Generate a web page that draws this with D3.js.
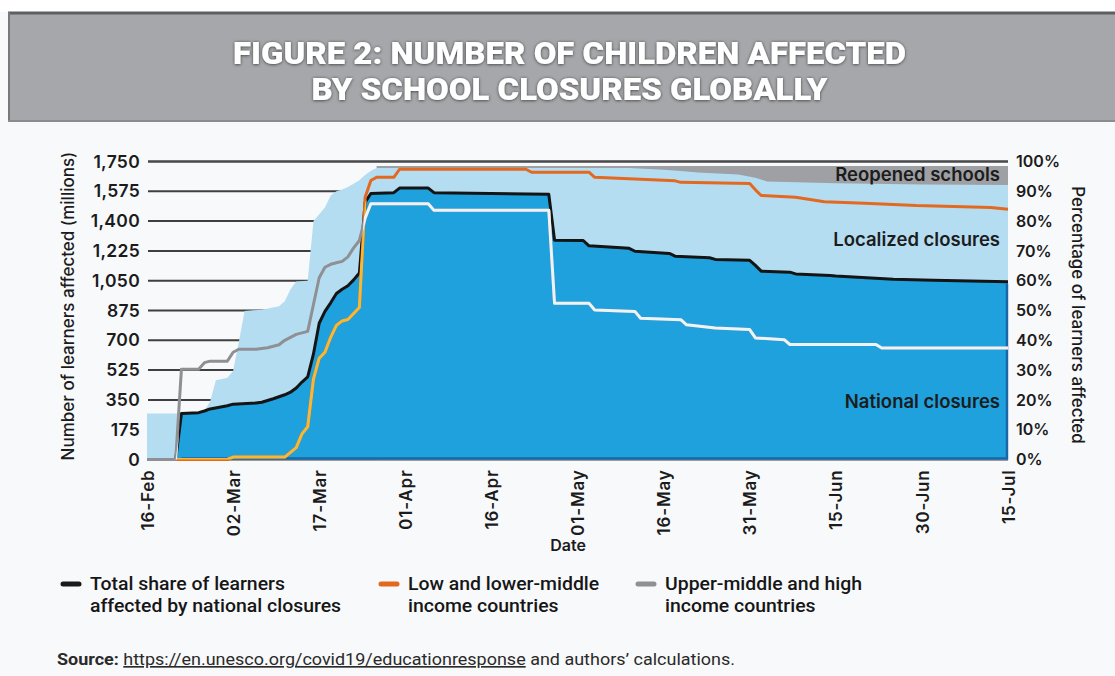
<!DOCTYPE html>
<html>
<head>
<meta charset="utf-8">
<script src="https://cdn.jsdelivr.net/npm/d3@7"></script>
<style>
  html, body { margin: 0; padding: 0; background: #f8f9fb; }
  svg { display: block; }
</style>
</head>
<body>
<svg id="chart" width="1115" height="676"></svg>
<script>
// ---- Chart content ----
const titleLines = ["FIGURE 2: NUMBER OF CHILDREN AFFECTED", "BY SCHOOL CLOSURES GLOBALLY"];
const leftAxisTitle = "Number of learners affected (millions)";
const rightAxisTitle = "Percentage of learners affected";
const dateAxisTitle = "Date";

const tickDates = ["2020-02-16", "2020-03-02", "2020-03-17", "2020-04-01", "2020-04-16",
  "2020-05-01", "2020-05-16", "2020-05-31", "2020-06-15", "2020-06-30", "2020-07-15"];
const learnerTicks = [0, 175, 350, 525, 700, 875, 1050, 1225, 1400, 1575, 1750];
const shareTicks = [0, 10, 20, 30, 40, 50, 60, 70, 80, 90, 100];

// Learners under national closures (millions) - also the total share line
const nationalClosures = [
  ["2020-02-16", 0], ["2020-02-21", 0], ["2020-02-22", 270], ["2020-02-25", 275], ["2020-02-26", 285],
  ["2020-02-27", 297], ["2020-03-01", 316], ["2020-03-02", 325], ["2020-03-06", 332], ["2020-03-07", 336],
  ["2020-03-09", 357], ["2020-03-11", 380], ["2020-03-12", 395], ["2020-03-13", 420], ["2020-03-14", 455],
  ["2020-03-15", 485], ["2020-03-16", 620], ["2020-03-17", 800], ["2020-03-18", 870], ["2020-03-19", 920],
  ["2020-03-20", 975], ["2020-03-21", 1000], ["2020-03-22", 1020], ["2020-03-23", 1055], ["2020-03-24", 1095],
  ["2020-03-25", 1510], ["2020-03-26", 1562], ["2020-03-30", 1567], ["2020-03-31", 1594], ["2020-04-05", 1594],
  ["2020-04-06", 1567], ["2020-04-26", 1557], ["2020-04-27", 1288], ["2020-05-02", 1286], ["2020-05-03", 1255],
  ["2020-05-10", 1240], ["2020-05-11", 1223], ["2020-05-17", 1210], ["2020-05-18", 1194], ["2020-05-24", 1185],
  ["2020-05-25", 1175], ["2020-05-31", 1170], ["2020-06-01", 1140], ["2020-06-02", 1106], ["2020-06-07", 1100],
  ["2020-06-08", 1090], ["2020-06-14", 1080], ["2020-06-15", 1077], ["2020-06-25", 1058], ["2020-07-02", 1052],
  ["2020-07-15", 1044]
];

// National + localized closures (millions)
const allClosures = [
  ["2020-02-16", 270], ["2020-02-22", 270], ["2020-02-26", 285], ["2020-02-27", 340], ["2020-02-28", 465],
  ["2020-03-01", 480], ["2020-03-02", 520], ["2020-03-03", 690], ["2020-03-04", 872], ["2020-03-07", 880],
  ["2020-03-10", 900], ["2020-03-11", 930], ["2020-03-12", 1000], ["2020-03-13", 1045], ["2020-03-15", 1050],
  ["2020-03-16", 1400], ["2020-03-17", 1440], ["2020-03-18", 1480], ["2020-03-19", 1550], ["2020-03-20", 1575],
  ["2020-03-21", 1585], ["2020-03-22", 1600], ["2020-03-23", 1620], ["2020-03-24", 1640], ["2020-03-25", 1670],
  ["2020-03-26", 1695], ["2020-03-27", 1712], ["2020-05-10", 1712], ["2020-05-16", 1702], ["2020-05-19", 1694],
  ["2020-05-22", 1686], ["2020-05-29", 1674], ["2020-06-01", 1655], ["2020-06-03", 1633], ["2020-06-15", 1623],
  ["2020-06-30", 1615], ["2020-07-15", 1612]
];

// All learners, including those in reopened schools (millions)
const allLearners = [["2020-03-27", 1724], ["2020-07-15", 1724]];

// Share of learners affected, low and lower-middle income countries (%)
const lowIncomeShare = [
  ["2020-02-16", 0], ["2020-03-01", 0], ["2020-03-02", 0.8], ["2020-03-11", 0.8], ["2020-03-12", 2.4],
  ["2020-03-13", 4], ["2020-03-14", 8.6], ["2020-03-15", 11], ["2020-03-16", 27], ["2020-03-17", 34],
  ["2020-03-18", 36], ["2020-03-19", 41], ["2020-03-20", 45], ["2020-03-21", 46.5], ["2020-03-22", 47],
  ["2020-03-23", 49], ["2020-03-24", 51], ["2020-03-25", 88], ["2020-03-26", 93.6], ["2020-03-27", 94.7],
  ["2020-03-30", 94.7], ["2020-03-31", 97.4], ["2020-04-22", 97.4], ["2020-04-23", 96.4], ["2020-05-03", 96.4],
  ["2020-05-04", 94.7], ["2020-05-11", 94.1], ["2020-05-18", 93.5], ["2020-05-19", 93], ["2020-05-31", 92.6],
  ["2020-06-01", 90.5], ["2020-06-02", 88.6], ["2020-06-08", 88], ["2020-06-13", 86.5], ["2020-06-20", 86],
  ["2020-06-29", 85.2], ["2020-07-12", 84.6], ["2020-07-15", 84]
];

// Share of learners affected, upper-middle and high income countries (%)
const upperIncomeShare = [
  ["2020-02-16", 0], ["2020-02-21", 0], ["2020-02-22", 30.3], ["2020-02-25", 30.3], ["2020-02-26", 32.5],
  ["2020-02-27", 33], ["2020-03-01", 33], ["2020-03-02", 36], ["2020-03-03", 37], ["2020-03-06", 37],
  ["2020-03-08", 37.5], ["2020-03-10", 38.5], ["2020-03-11", 40], ["2020-03-13", 42], ["2020-03-15", 43],
  ["2020-03-16", 52], ["2020-03-17", 61], ["2020-03-18", 64.5], ["2020-03-19", 65.5], ["2020-03-20", 66],
  ["2020-03-21", 66.5], ["2020-03-22", 68], ["2020-03-23", 71], ["2020-03-24", 73.5], ["2020-03-25", 81],
  ["2020-03-26", 85.8], ["2020-04-05", 85.8], ["2020-04-06", 83.6], ["2020-04-26", 83.6], ["2020-04-27", 52.4],
  ["2020-05-03", 52.4], ["2020-05-04", 50.2], ["2020-05-11", 49.7], ["2020-05-12", 47.4], ["2020-05-19", 46.9],
  ["2020-05-20", 45.2], ["2020-05-25", 44.1], ["2020-05-31", 43.6], ["2020-06-01", 40.8], ["2020-06-06", 40.2],
  ["2020-06-07", 38.6], ["2020-06-22", 38.6], ["2020-06-23", 37.4], ["2020-07-15", 37.4]
];

const areaLabels = ["Reopened schools", "Localized closures", "National closures"];
const legendItems = [
  { lines: ["Total share of learners", "affected by national closures"], color: "#1a1a1a" },
  { lines: ["Low and lower-middle", "income countries"], color: "#e2691f" },
  { lines: ["Upper-middle and high", "income countries"], color: "#8f9093" }
];
const sourceParts = ["Source: ", "https://en.unesco.org/covid19/educationresponse", " and authors\u2019 calculations."];

// ---- Drawing ----
const svg = d3.select("#chart");
const parse = d3.timeParse("%Y-%m-%d");
const toPoints = arr => arr.map(([d, v]) => ({ date: parse(d), value: v }));

const plot = { left: 147, right: 1008, top: 161.5, bottom: 459.5 };
const x = d3.scaleTime().domain([parse(tickDates[0]), parse(tickDates[tickDates.length - 1])]).range([plot.left, plot.right]);
const yL = d3.scaleLinear().domain([0, 1750]).range([plot.bottom, plot.top]);
const yR = d3.scaleLinear().domain([0, 100]).range([plot.bottom, plot.top]);

const AXIS_FONT = "Inter, 'Open Sans', sans-serif";

// rescale a text element horizontally to a share of its natural width
function stretch(sel, ratio) {
  sel.each(function () {
    const w = this.getComputedTextLength();
    d3.select(this).attr("textLength", w * ratio).attr("lengthAdjust", "spacingAndGlyphs");
  });
}

// background
svg.append("rect").attr("width", 1115).attr("height", 676).attr("fill", "#f8f9fb");
svg.append("rect").attr("width", 1115).attr("height", 12).attr("fill", "#ffffff");

// title banner
const defs = svg.append("defs");
const shadow = defs.append("filter").attr("id", "titleShadow").attr("x", "-5%").attr("y", "-30%").attr("width", "110%").attr("height", "160%");
shadow.append("feDropShadow").attr("dx", 0).attr("dy", 0.5).attr("stdDeviation", 1.6)
  .attr("flood-color", "#2a2a2a").attr("flood-opacity", 0.9);

svg.append("rect").attr("x", 8).attr("y", 12).attr("width", 1107).attr("height", 110).attr("fill", "#a6a7aa");
svg.append("line").attr("x1", 8).attr("x2", 1115).attr("y1", 13).attr("y2", 13).attr("stroke", "#5d5e61").attr("stroke-width", 3);
svg.append("line").attr("x1", 9).attr("x2", 9).attr("y1", 12).attr("y2", 122).attr("stroke", "#77787b").attr("stroke-width", 2);
svg.append("line").attr("x1", 8).attr("x2", 1115).attr("y1", 121).attr("y2", 121).attr("stroke", "#8b8c8f").attr("stroke-width", 2);

const titleWidths = [673, 516];
svg.append("g").attr("filter", "url(#titleShadow)")
  .selectAll("text").data(titleLines).join("text")
  .attr("x", 569.5).attr("y", (d, i) => 63.5 + i * 36)
  .attr("text-anchor", "middle")
  .attr("textLength", (d, i) => titleWidths[i]).attr("lengthAdjust", "spacingAndGlyphs")
  .style("font-family", "Roboto, sans-serif").style("font-weight", 900).style("font-size", "32px")
  .attr("fill", "#ffffff").text(d => d);

// gridlines (behind the areas)
svg.append("g").selectAll("line").data(learnerTicks).join("line")
  .attr("x1", plot.left + 1).attr("x2", plot.right)
  .attr("y1", d => yL(d)).attr("y2", d => yL(d))
  .attr("stroke", "#3f3f41").attr("stroke-width", 2);

// stacked areas drawn back-to-front
const areaL = d3.area().x(d => x(d.date)).y0(plot.bottom).y1(d => yL(d.value));
svg.append("path").datum(toPoints(allLearners)).attr("d", areaL).attr("fill", "#9fa0a3");
svg.append("path").datum(toPoints(allClosures)).attr("d", areaL).attr("fill", "#b5ddf2");
const nationalPts = toPoints(nationalClosures);
svg.append("path").datum(nationalPts).attr("d", areaL).attr("fill", "#1fa1dd");

defs.append("clipPath").attr("id", "nationalClip")
  .append("path").datum(nationalPts).attr("d", areaL);

// darker inner edge along the bottom and right of the national area
const natEnd = nationalPts[nationalPts.length - 1];
svg.append("path")
  .attr("d", `M${x(parse("2020-02-22"))},${plot.bottom - 1} H${x(natEnd.date) - 1} V${yL(natEnd.value) + 2}`)
  .attr("fill", "none").attr("stroke", "#1a5d9e").attr("stroke-width", 2.5).attr("opacity", 0.85);

// top frame line
svg.append("line").attr("x1", plot.left + 1).attr("x2", plot.right)
  .attr("y1", yL(1750)).attr("y2", yL(1750)).attr("stroke", "#4a4a4c").attr("stroke-width", 2);

const lineR = d3.line().x(d => x(d.date)).y(d => yR(d.value));
const lineL = d3.line().x(d => x(d.date)).y(d => yL(d.value));

function drawShareLine(data, color, colorOnBlue) {
  const pts = toPoints(data);
  svg.append("path").datum(pts).attr("d", lineR)
    .attr("fill", "none").attr("stroke", color).attr("stroke-width", 3).attr("stroke-linejoin", "round");
  svg.append("path").datum(pts).attr("d", lineR).attr("clip-path", "url(#nationalClip)")
    .attr("fill", "none").attr("stroke", colorOnBlue).attr("stroke-width", 3).attr("stroke-linejoin", "round");
}

// total share line (top of national closures)
svg.append("path").datum(nationalPts).attr("d", lineL)
  .attr("fill", "none").attr("stroke", "#141414").attr("stroke-width", 3).attr("stroke-linejoin", "round");

drawShareLine(lowIncomeShare, "#e2691f", "#f7b935");
drawShareLine(upperIncomeShare, "#8f9093", "#eef3f7");

// area labels
const labelY = [181, 246, 408];
svg.append("g").selectAll("text").data(areaLabels).join("text")
  .attr("x", 1000).attr("y", (d, i) => labelY[i]).attr("text-anchor", "end")
  .style("font-family", AXIS_FONT).style("font-weight", 600).style("font-size", "18.5px")
  .attr("fill", "#1c1c1c").text(d => d);

// left axis
const gLeft = svg.append("g").attr("transform", `translate(${plot.left},0)`)
  .call(d3.axisLeft(yL).tickValues(learnerTicks).tickFormat(d3.format(",")).tickSize(0).tickPadding(7));
gLeft.select(".domain").remove();
gLeft.selectAll("text").style("font-family", AXIS_FONT).style("font-weight", 600).style("font-size", "17.5px")
  .style("letter-spacing", "0.3px").attr("fill", "#1b1b1b");

// right axis
const gRight = svg.append("g").attr("transform", `translate(${plot.right},0)`)
  .call(d3.axisRight(yR).tickValues(shareTicks).tickFormat(d => d + "%").tickSize(0).tickPadding(8));
gRight.select(".domain").remove();
gRight.selectAll("text").style("font-family", AXIS_FONT).style("font-weight", 600).style("font-size", "16px").attr("fill", "#1b1b1b");

// date axis with vertical labels
const gBottom = svg.append("g").attr("transform", `translate(0,${plot.bottom})`)
  .call(d3.axisBottom(x).tickValues(tickDates.map(parse)).tickFormat(d3.timeFormat("%d-%b")).tickSize(0));
gBottom.select(".domain").remove();
gBottom.selectAll("text")
  .attr("transform", "rotate(-90)").attr("x", -10).attr("y", 0).attr("dy", "0.36em")
  .style("text-anchor", "end")
  .style("font-family", AXIS_FONT).style("font-weight", 600).style("font-size", "17px")
  .style("letter-spacing", "0.8px").attr("fill", "#1b1b1b");

// axis titles
svg.append("text").attr("transform", "translate(74,306) rotate(-90)").attr("text-anchor", "middle")
  .style("font-family", AXIS_FONT).style("font-weight", 500).style("font-size", "17px").attr("fill", "#1b1b1b")
  .text(leftAxisTitle);
svg.append("text").attr("transform", "translate(1072,315) rotate(90)").attr("text-anchor", "middle")
  .style("font-family", AXIS_FONT).style("font-weight", 500).style("font-size", "17px").attr("fill", "#1b1b1b")
  .text(rightAxisTitle);
svg.append("text").attr("x", 568).attr("y", 551).attr("text-anchor", "middle")
  .style("font-family", AXIS_FONT).style("font-weight", 600).style("font-size", "16px").attr("fill", "#1b1b1b")
  .text(dateAxisTitle);

// legend
const legendX = [62, 380, 637];
const gLegend = svg.append("g");
legendItems.forEach((item, i) => {
  const g = gLegend.append("g").attr("transform", `translate(${legendX[i]},0)`);
  g.append("line").attr("x1", 1).attr("x2", 17).attr("y1", 584).attr("y2", 584)
    .attr("stroke", item.color).attr("stroke-width", 5).attr("stroke-linecap", "round");
  g.selectAll("text").data(item.lines).join("text")
    .attr("x", 28).attr("y", (d, j) => 590 + j * 22)
    .style("font-family", "Roboto, sans-serif").style("font-weight", 500).style("font-size", "18.5px")
    .attr("fill", "#161616").text(d => d)
    .call(stretch, 1.05);
});

// source note
const src = svg.append("text").attr("x", 57).attr("y", 665)
  .style("font-family", "Roboto, sans-serif").style("font-size", "16.5px").attr("fill", "#2a2a2a");
src.append("tspan").style("font-weight", 700).text(sourceParts[0]);
src.append("tspan").style("text-decoration", "underline").text(sourceParts[1]);
src.append("tspan").text(sourceParts[2]);
src.attr("textLength", 678).attr("lengthAdjust", "spacingAndGlyphs");
</script>
</body>
</html>
